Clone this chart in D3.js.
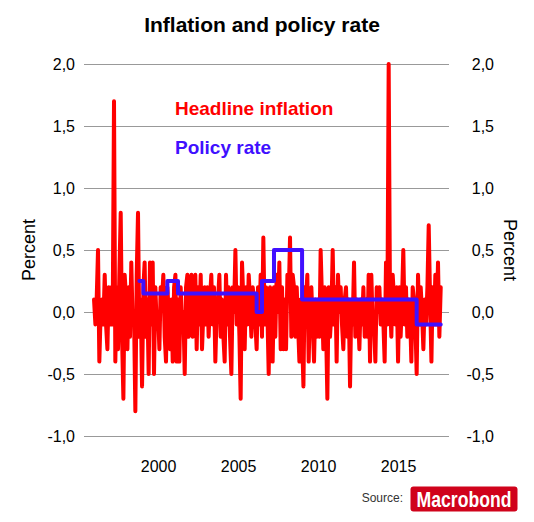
<!DOCTYPE html>
<html>
<head>
<meta charset="utf-8">
<script src="https://cdn.jsdelivr.net/npm/d3@7"></script>
<style>
	body { margin: 0; background: #fff; }
	text { font-family: "Liberation Sans", Arial, Helvetica, sans-serif; }
</style>
</head>
<body>
<div id="graph"></div>
<script>
// MONTHLY HEADLINE INFLATION (%), JAN 1996 - SEP 2017, ONE ROW PER YEAR
var firstYear = 1996;
var headline = [
	0.1, -0.1, 0.1, 0.5, -0.4, 0.0, 0.1, -0.1, 0.3, -0.1, -0.3, 0.2, // 1996
	-0.1, 0.2, -0.1, 1.7, -0.4, 0.2, -0.3, 0.3, 0.8, -0.2, -0.7, 0.3, // 1997
	0.1, -0.3, 0.2, -0.2, 0.4, -0.1, 0.0, -0.8, 0.3, 0.8, -0.2, 0.1, // 1998
	-0.6, 0.2, 0.4, -0.2, 0.1, -0.5, 0.4, -0.1, 0.4, -0.5, 0.2, -0.1, // 1999
	0.0, -0.3, 0.2, 0.1, 0.3, -0.2, -0.4, 0.2, 0.0, -0.3, 0.1, -0.4, // 2000
	0.2, 0.3, -0.4, 0.1, -0.4, 0.2, -0.1, 0.0, -0.5, 0.2, 0.3, -0.2, // 2001
	0.1, 0.3, -0.2, 0.1, 0.3, -0.3, 0.2, -0.1, 0.3, -0.3, 0.0, 0.2, // 2002
	-0.1, 0.2, -0.2, 0.1, 0.3, -0.1, 0.2, -0.4, 0.0, 0.1, 0.3, -0.2, // 2003
	0.1, -0.2, -0.4, 0.3, -0.1, 0.2, -0.2, -0.5, 0.2, 0.0, 0.5, -0.1, // 2004
	0.2, -0.2, -0.7, 0.4, 0.1, -0.3, 0.2, -0.1, 0.3, 0.1, -0.2, 0.2, // 2005
	0.1, -0.1, -0.3, 0.2, -0.1, 0.3, -0.2, 0.6, -0.1, 0.2, 0.0, -0.5, // 2006
	0.2, -0.1, -0.4, 0.2, -0.2, 0.3, 0.0, 0.4, -0.3, 0.2, -0.3, 0.1, // 2007
	-0.3, 0.3, 0.1, 0.6, -0.2, 0.3, 0.2, -0.2, 0.2, -0.1, -0.4, 0.1, // 2008
	-0.2, -0.6, 0.2, 0.1, 0.3, -0.4, 0.1, 0.2, -0.1, -0.4, 0.1, -0.2, // 2009
	0.1, -0.2, 0.5, 0.1, -0.3, 0.2, -0.1, -0.7, 0.2, -0.2, 0.0, 0.5, // 2010
	-0.1, 0.2, -0.4, 0.3, 0.0, 0.2, -0.1, -0.3, 0.1, 0.2, -0.2, 0.1, // 2011
	-0.6, 0.1, -0.1, 0.4, -0.2, 0.1, 0.0, -0.3, 0.1, -0.1, 0.2, -0.2, // 2012
	0.1, -0.2, 0.3, -0.4, 0.3, -0.1, -0.1, -0.4, 0.2, 0.0, 0.2, -0.1, // 2013
	0.1, -0.1, -0.4, 0.4, -0.1, 2.0, 0.1, -0.2, 0.3, 0.1, -0.1, 0.2, // 2014
	-0.4, 0.2, -0.2, 0.1, 0.5, -0.1, 0.2, -0.2, 0.1, 0.0, -0.4, 0.2, // 2015
	0.1, -0.1, -0.5, 0.3, -0.1, 0.2, 0.0, -0.3, 0.1, -0.1, 0.2, 0.7, // 2016
	0.1, -0.4, 0.2, -0.1, 0.3, -0.1, 0.4, -0.2, 0.2 // 2017
];

// POLICY RATE (%), STEP CHANGES
var policyDates = ["1998-11", "1999-02", "2000-08", "2001-04", "2006-03", "2006-07", "2007-04", "2009-01", "2016-03", "2017-09"];
var policyRate = [0.25, 0.15, 0.25, 0.15, 0.0, 0.25, 0.5, 0.1, -0.1, -0.1];

// AXIS TICKS
var yTicks = [-1.0, -0.5, 0.0, 0.5, 1.0, 1.5, 2.0];
var xTicks = [2000, 2005, 2010, 2015];

var parseMonth = d3.timeParse("%Y-%m");

var inflationData = headline.map(function (v, i) {
	return { date: new Date(firstYear + Math.floor(i / 12), i % 12, 1), value: v };
});
var policyData = policyDates.map(function (d, i) {
	return { date: parseMonth(d), value: policyRate[i] };
});

// SIZE
var width = 534, height = 522;

var svg = d3
	.select("#graph")
	.append("svg")
	.attr("width", width)
	.attr("height", height);

// SCALES
var x = d3
	.scaleTime()
	.domain([new Date(1995, 4, 17), new Date(2018, 2, 9)])
	.range([84, 449]);

var y = d3.scaleLinear().domain([-1, 2]).range([436, 64]);

var locale = d3.formatLocale({ decimal: ",", thousands: ".", grouping: [3], currency: ["", ""], minus: "-" });
var fmt = locale.format(".1f");

function styleLabels(g) {
	g.select(".domain").remove();
	g.selectAll("text")
		.attr("font-size", 16)
		.attr("fill", "#000")
		.attr("font-family", "Liberation Sans, Arial, sans-serif");
}

// GRIDLINES
svg
	.append("g")
	.attr("transform", "translate(" + x.range()[0] + ",0)")
	.call(d3.axisLeft(y).tickValues(yTicks).tickSize(-(x.range()[1] - x.range()[0])).tickFormat(""))
	.call(function (g) {
		g.select(".domain").remove();
		g.selectAll(".tick line").attr("stroke", "#999").attr("stroke-width", 1);
	});

// LEFT Y LABELS
svg
	.append("g")
	.attr("transform", "translate(75,0)")
	.call(d3.axisLeft(y).tickValues(yTicks).tickSize(0).tickPadding(0).tickFormat(fmt))
	.call(styleLabels);

// RIGHT Y LABELS (right aligned)
svg
	.append("g")
	.attr("transform", "translate(494,0)")
	.call(d3.axisLeft(y).tickValues(yTicks).tickSize(0).tickPadding(0).tickFormat(fmt))
	.call(styleLabels);

// X LABELS
svg
	.append("g")
	.attr("transform", "translate(0,461)")
	.call(
		d3
			.axisBottom(x)
			.tickValues(xTicks.map(function (yr) { return new Date(yr, 0, 1); }))
			.tickSize(0)
			.tickPadding(0)
			.tickFormat(d3.timeFormat("%Y"))
	)
	.call(styleLabels);

// AXIS TITLES
svg
	.append("text")
	.attr("transform", "translate(35,250) rotate(-90)")
	.attr("text-anchor", "middle")
	.attr("font-size", 18)
	.text("Percent");
svg
	.append("text")
	.attr("transform", "translate(504,250) rotate(90)")
	.attr("text-anchor", "middle")
	.attr("font-size", 18)
	.text("Percent");

// TITLE
svg
	.append("text")
	.attr("x", 262)
	.attr("y", 32)
	.attr("text-anchor", "middle")
	.attr("font-size", 21)
	.attr("font-weight", "bold")
	.text("Inflation and policy rate");

// LINE (HEADLINE INFLATION)
svg
	.append("path")
	.datum(inflationData)
	.attr("fill", "none")
	.attr("stroke", "#ff0000")
	.attr("stroke-width", 4)
	.attr("stroke-linejoin", "round")
	.attr("stroke-linecap", "round")
	.attr(
		"d",
		d3
			.line()
			.x(function (d) { return x(d.date); })
			.y(function (d) { return y(d.value); })
	);

// LINE (POLICY RATE)
svg
	.append("path")
	.datum(policyData)
	.attr("fill", "none")
	.attr("stroke", "#4010ff")
	.attr("stroke-width", 4)
	.attr("stroke-linejoin", "round")
	.attr("stroke-linecap", "round")
	.attr(
		"d",
		d3
			.line()
			.curve(d3.curveStepAfter)
			.x(function (d) { return x(d.date); })
			.y(function (d) { return y(d.value); })
	);

// LEGEND
svg
	.append("text")
	.attr("x", 175)
	.attr("y", 115)
	.attr("font-size", 19)
	.attr("font-weight", "bold")
	.attr("fill", "#ff0000")
	.text("Headline inflation");
svg
	.append("text")
	.attr("x", 175)
	.attr("y", 154)
	.attr("font-size", 19)
	.attr("font-weight", "bold")
	.attr("fill", "#4010ff")
	.text("Policy rate");

// SOURCE + LOGO
svg
	.append("text")
	.attr("x", 403)
	.attr("y", 502)
	.attr("text-anchor", "end")
	.attr("font-size", 12)
	.attr("fill", "#333")
	.text("Source:");
svg
	.append("rect")
	.attr("x", 410.5)
	.attr("y", 486.5)
	.attr("width", 107)
	.attr("height", 25)
	.attr("rx", 3)
	.attr("fill", "#d0021b");
// condensed look: squeeze the bold face horizontally
svg
	.append("text")
	.attr("transform", "translate(464,507) scale(0.8,1)")
	.attr("text-anchor", "middle")
	.attr("font-size", 22)
	.attr("font-weight", "bold")
	.attr("fill", "#fff")
	.text("Macrobond");
</script>
</body>
</html>
